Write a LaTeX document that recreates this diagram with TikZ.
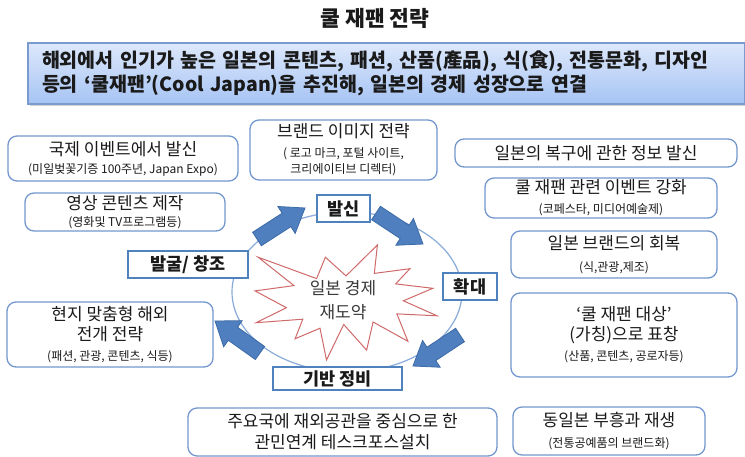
\documentclass[tikz,border=0pt]{standalone}
\usepackage{fontspec}
\setmainfont{Noto Sans CJK KR}
\usetikzlibrary{calc,shadows}
\definecolor{boxline}{HTML}{7397CE}
\definecolor{lblline}{HTML}{4F81BD}
\definecolor{ringline}{HTML}{89ACDA}
\definecolor{arrfill}{HTML}{4F7FBE}
\definecolor{arrline}{HTML}{3C6AA6}
\definecolor{starline}{HTML}{D06A6A}
\definecolor{startext}{HTML}{3A3A3A}
\definecolor{bantop}{HTML}{DDE8FB}
\definecolor{banbot}{HTML}{A6C4F4}
\definecolor{banline}{HTML}{7A9BD0}
\definecolor{txt}{HTML}{1A1A1A}
\newcommand\mfs{\fontsize{17}{20}\selectfont}
\newcommand\sfs{\fontsize{12}{16}\selectfont}
\newcommand\lfs{\fontsize{17.5}{20}\selectfont}
\newcommand\blockarr[2]{%
  \coordinate (ba-h) at ($(#2)!22pt!(#1)$);
  \draw[barrow] ($(#1)!8pt!90:(#2)$) -- ($(ba-h)!8pt!-90:(#1)$) -- ($(ba-h)!16pt!-90:(#1)$) -- (#2)
    -- ($(ba-h)!16pt!90:(#1)$) -- ($(ba-h)!8pt!90:(#1)$) -- ($(#1)!8pt!-90:(#2)$) -- cycle;}
\tikzset{
  rbox/.style={draw=boxline, line width=1.3pt, rounded corners=9pt, fill=white, align=center,
    inner sep=0pt, font=\mfs, text=txt},
  lbox/.style={draw=lblline, line width=1.4pt, fill=white, inner sep=0pt, font=\bfseries\lfs, text=txt},
  barrow/.style={fill=arrfill, draw=arrline, line width=0.8pt, line join=miter},
  ring/.style={draw=ringline, line width=1.2pt},
  starsh/.style={draw=starline, line width=1pt, fill=white, line join=miter},
  banner/.style={draw=banline, line width=1.2pt, top color=bantop, bottom color=banbot,
    drop shadow={shadow xshift=1.5pt, shadow yshift=-2.5pt, opacity=.35},
    text width=689pt, inner xsep=14pt, inner ysep=0pt, minimum height=61pt, align=left,
    font=\bfseries\fontsize{19.5}{24}\selectfont, text=txt},
}
\begin{document}
\begin{tikzpicture}[x=1pt,y=-1pt]
\path[fill=white] (0,0) rectangle (745,457);
\useasboundingbox (0,0) rectangle (745,457);

\node[font=\bfseries\fontsize{21.5}{24}\selectfont, text=txt] (title) at (375,18) {쿨 재팬 전략};

\node[banner] (ban) at (386.5,73.5) {해외에서 인기가 높은 일본의 콘텐츠, 패션, 산품(產品), 식(食), 전통문화, 디자인\\등의 ‘쿨재팬’(Cool Japan)을 추진해, 일본의 경제 성장으로 연결};

% ring
\draw[ring] (347,292) ellipse [x radius=115pt, y radius=80pt];

% star
\draw[starsh] (346.0,275.9) -- (377.4,245) -- (374.3,273.4) -- (409.9,268.7) -- (395.7,283.9)
  -- (432.8,288.3) -- (403.4,300.8) -- (437,315.8) -- (396.9,313.9) -- (407.9,341.3)
  -- (373.1,322.0) -- (366.6,350.1) -- (343.7,324.5) -- (326.5,360) -- (320.0,328.2)
  -- (295.1,338.8) -- (302.8,319.2) -- (256.1,322.7) -- (286.4,307.7) -- (255,290.9)
  -- (294.0,285.6) -- (258.1,257.2) -- (316.6,278.6) -- (325.4,257.2) -- cycle;
\node[font=\fontsize{17}{24}\selectfont, text=startext, align=center] (startxt) at (343,300) {일본 경제\\재도약};

% arrows
\coordinate (a1s) at (257,239); \coordinate (a1e) at (305,208);
\coordinate (a2s) at (376,213); \coordinate (a2e) at (423,244);
\coordinate (a3s) at (460,335); \coordinate (a3e) at (413,366);
\coordinate (a4s) at (260,353); \coordinate (a4e) at (215,321);
\blockarr{a1s}{a1e}
\blockarr{a2s}{a2e}
\blockarr{a3s}{a3e}
\blockarr{a4s}{a4e}

% label boxes on ring
\node[lbox, minimum width=53pt, minimum height=27pt] (l1) at (343.5,208.5) {발신};
\node[lbox, minimum width=54pt, minimum height=27pt] (l2) at (470,286.5) {확대};
\node[lbox, minimum width=129pt, minimum height=23pt] (l3) at (337.5,378.5) {기반 정비};
\node[lbox, minimum width=120pt, minimum height=27pt] (l4) at (188,264.5) {발굴/ 창조};

% left boxes
\node[rbox, minimum width=230pt, minimum height=45pt] (b1) at (123,158.5)
  {국제 이벤트에서 발신\\[-2pt]{\sfs (미일벚꽃기증 100주년, Japan Expo)}};
\node[rbox, minimum width=200pt, minimum height=38pt] (b2) at (125,212)
  {영상 콘텐츠 제작\\[-3pt]{\sfs (영화및 TV프로그램등)}};
\node[rbox, minimum width=206pt, minimum height=65pt] (b11) at (110,334.5)
  {현지 맞춤형 해외\\전개 전략\\{\sfs (패션, 관광, 콘텐츠, 식등)}};

% top middle
\node[rbox, minimum width=187pt, minimum height=60pt] (b3) at (343.5,150)
  {브랜드 이미지 전략\\{\sfs ( 로고 마크, 포털 사이트,}\\[-4pt]{\sfs 크리에이티브 디렉터)}};

% right boxes
\node[rbox, minimum width=282pt, minimum height=28pt] (b5) at (596,153) {일본의 복구에 관한 정보 발신};
\node[rbox, minimum width=232pt, minimum height=40pt] (b6) at (601,198)
  {쿨 재팬 관련 이벤트 강화\\{\sfs (코페스타, 미디어예술제)}};
\node[rbox, minimum width=206pt, minimum height=47pt] (b7) at (614,254.5)
  {일본 브랜드의 회복\\[2pt]{\sfs (식,관광,제조)}};
\node[rbox, minimum width=226pt, minimum height=84pt] (b8) at (624,335)
  {‘쿨 재팬 대상’\\(가칭)으로 표창\\{\sfs (산품, 콘텐츠, 공로자등)}};
\node[rbox, minimum width=192pt, minimum height=48pt] (b9) at (609,431)
  {동일본 부흥과 재생\\[1pt]{\sfs (전통공예품의 브랜드화)}};

% bottom middle
\node[rbox, minimum width=309pt, minimum height=48pt] (b10) at (342.5,432)
  {주요국에 재외공관을 중심으로 한\\[1pt]관민연계 테스크포스설치};
\end{tikzpicture}
\end{document}
